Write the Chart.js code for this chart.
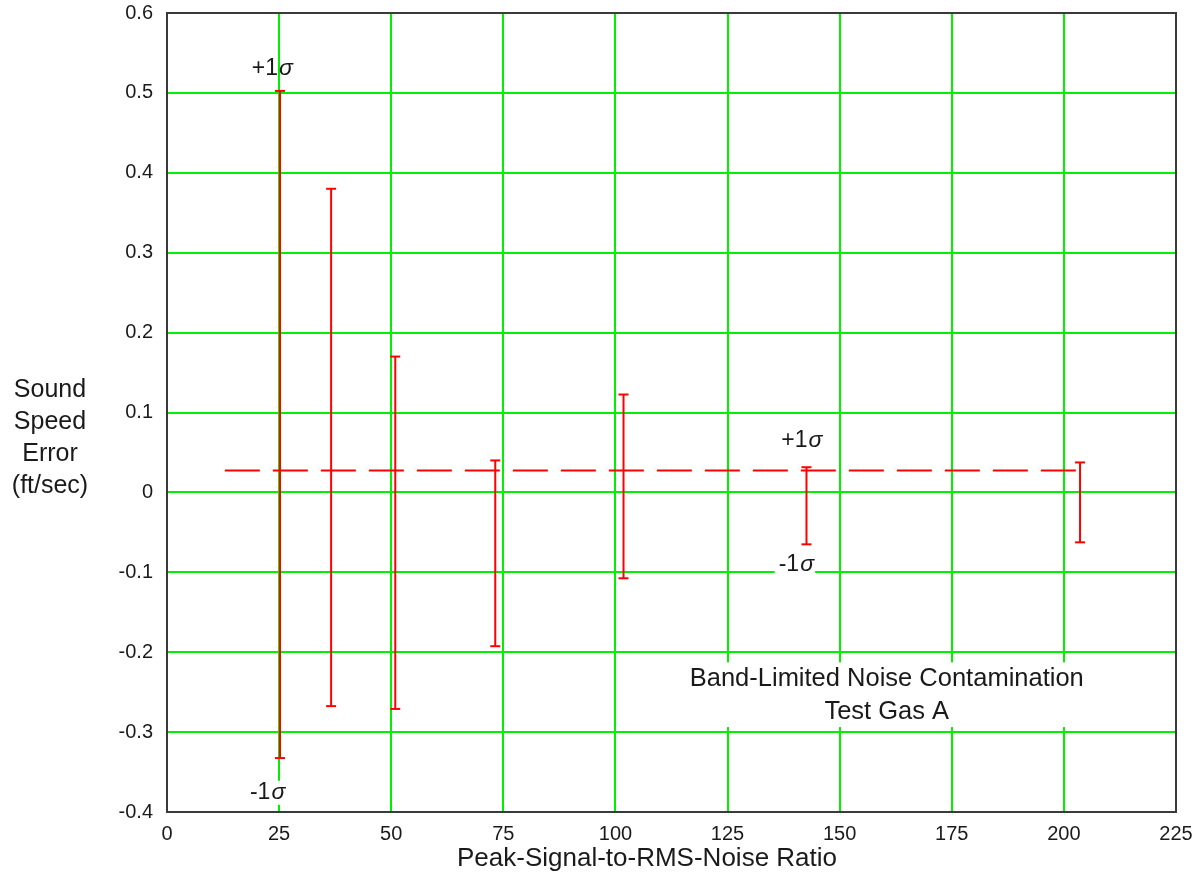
<!DOCTYPE html>
<html>
<head>
<meta charset="utf-8">
<script src="https://cdn.jsdelivr.net/npm/chart.js@4.4.1/dist/chart.umd.min.js"></script>
<style>
    html, body { margin: 0; padding: 0; background: #ffffff; }
    #wrap { width: 1203px; height: 886px; }
</style>
</head>
<body>
<div id="wrap"><canvas id="chart" width="1203" height="886"></canvas></div>
<script>
// Peak-signal-to-RMS-noise ratio for each test run
const snrValues = [25.2, 36.6, 50.9, 73.2, 101.8, 142.6, 203.6];
// +1 sigma and -1 sigma sound speed errors (ft/sec)
const plusSigma = [0.5025, 0.38, 0.17, 0.04, 0.1225, 0.0315, 0.0375];
const minusSigma = [-0.3325, -0.2675, -0.271, -0.1925, -0.1075, -0.065, -0.0625];
// mean error line
const meanX = [12.9, 203.6];
const meanY = [0.0275, 0.0275];

const xTicks = [0, 25, 50, 75, 100, 125, 150, 175, 200, 225];
const yTicks = [-0.4, -0.3, -0.2, -0.1, 0, 0.1, 0.2, 0.3, 0.4, 0.5, 0.6];

// sigma labels placed in data coordinates
const sigmaLabels = [
    { text: '+1', x: 18.9, y: 0.53, clear: false },
    { text: '-1', x: 18.5, y: -0.376, clear: true },
    { text: '+1', x: 137.0, y: 0.065, clear: false },
    { text: '-1', x: 136.4, y: -0.091, clear: true }
];
const noteLines = ['Band-Limited Noise Contamination', 'Test Gas A'];
const noteX = 160.5;
const noteY = [-0.234, -0.275];
const yTitleLines = ['Sound', 'Speed', 'Error', '(ft/sec)'];
const xTitle = 'Peak-Signal-to-RMS-Noise Ratio';

const FONT = '"Liberation Sans", Arial, sans-serif';
const RED = '#ff0000';
const GREEN = '#00f000';
const TEXT = '#1a1a1a';

// one dataset per error bar, caps drawn as horizontal 'line' points
const barSets = snrValues.map((x, i) => ({
    data: [{ x: x, y: minusSigma[i] }, { x: x, y: plusSigma[i] }],
    borderColor: RED,
    borderWidth: 2,
    pointStyle: 'line',
    pointRadius: 5,
    pointBorderColor: RED,
    pointBorderWidth: 2,
    pointHoverRadius: 5
}));

const meanSet = {
    data: meanX.map((x, i) => ({ x: x, y: meanY[i] })),
    borderColor: RED,
    borderWidth: 2,
    borderDash: [35, 13],
    pointRadius: 0
};

// frame, axis titles, sigma labels and note text
const decorations = {
    id: 'decorations',
    afterDraw(chart) {
        const ctx = chart.ctx;
        const a = chart.chartArea;
        const xs = chart.scales.x;
        const ys = chart.scales.y;
        ctx.save();
        ctx.strokeStyle = '#3a3a3a';
        ctx.lineWidth = 2;
        ctx.strokeRect(a.left, a.top, a.right - a.left, a.bottom - a.top);

        ctx.fillStyle = TEXT;
        ctx.font = '25px ' + FONT;
        ctx.textAlign = 'center';
        ctx.textBaseline = 'middle';
        yTitleLines.forEach((t, i) => ctx.fillText(t, 50, 390 + i * 32));

        ctx.font = '26px ' + FONT;
        ctx.fillText(xTitle, 647, 859);

        sigmaLabels.forEach(l => {
            const px = xs.getPixelForValue(l.x);
            const py = ys.getPixelForValue(l.y);
            ctx.textAlign = 'left';
            ctx.font = '23px ' + FONT;
            const w = ctx.measureText(l.text).width;
            if (l.clear) {
                ctx.fillStyle = '#ffffff';
                ctx.fillRect(px - 4, py - 12, w + 20, 24);
            }
            ctx.fillStyle = TEXT;
            ctx.fillText(l.text, px, py);
            ctx.font = 'italic 23px ' + FONT;
            ctx.fillText('\u03c3', px + w + 1, py);
        });

        // note block sits on a white box that hides the grid behind it
        ctx.font = '25.5px ' + FONT;
        ctx.textAlign = 'center';
        const nx = xs.getPixelForValue(noteX);
        const ny0 = ys.getPixelForValue(noteY[0]);
        const ny1 = ys.getPixelForValue(noteY[1]);
        const nw = ctx.measureText(noteLines[0]).width;
        ctx.fillStyle = '#ffffff';
        ctx.fillRect(nx - nw / 2 - 4, ny0 - 17, nw + 8, ny1 - ny0 + 32);
        ctx.fillStyle = TEXT;
        noteLines.forEach((t, i) => {
            ctx.fillText(t, nx, ys.getPixelForValue(noteY[i]));
        });
        ctx.restore();
    }
};

new Chart(document.getElementById('chart').getContext('2d'), {
    type: 'line',
    data: { datasets: [meanSet].concat(barSets) },
    options: {
        responsive: false,
        animation: false,
        layout: { padding: { left: 0, right: 27, top: 13, bottom: 0 } },
        plugins: {
            legend: { display: false },
            tooltip: { enabled: false }
        },
        scales: {
            x: {
                type: 'linear',
                min: 0,
                max: 225,
                afterBuildTicks: s => { s.ticks = xTicks.map(v => ({ value: v })); },
                afterFit: s => { s.height = 74; },
                grid: { color: GREEN, lineWidth: 2, drawTicks: false },
                border: { display: false },
                ticks: { color: TEXT, font: { family: FONT, size: 20 }, padding: 10 }
            },
            y: {
                type: 'linear',
                min: -0.4,
                max: 0.6,
                afterBuildTicks: s => { s.ticks = yTicks.map(v => ({ value: v })); },
                afterFit: s => { s.width = 167; s.paddingTop = 0; s.paddingBottom = 0; },
                grid: { color: GREEN, lineWidth: 2, drawTicks: false },
                border: { display: false },
                ticks: {
                    color: TEXT,
                    font: { family: FONT, size: 20 },
                    padding: 14,
                    callback: v => (Math.round(v * 10) / 10).toString()
                }
            }
        }
    },
    plugins: [decorations]
});
</script>
</body>
</html>
